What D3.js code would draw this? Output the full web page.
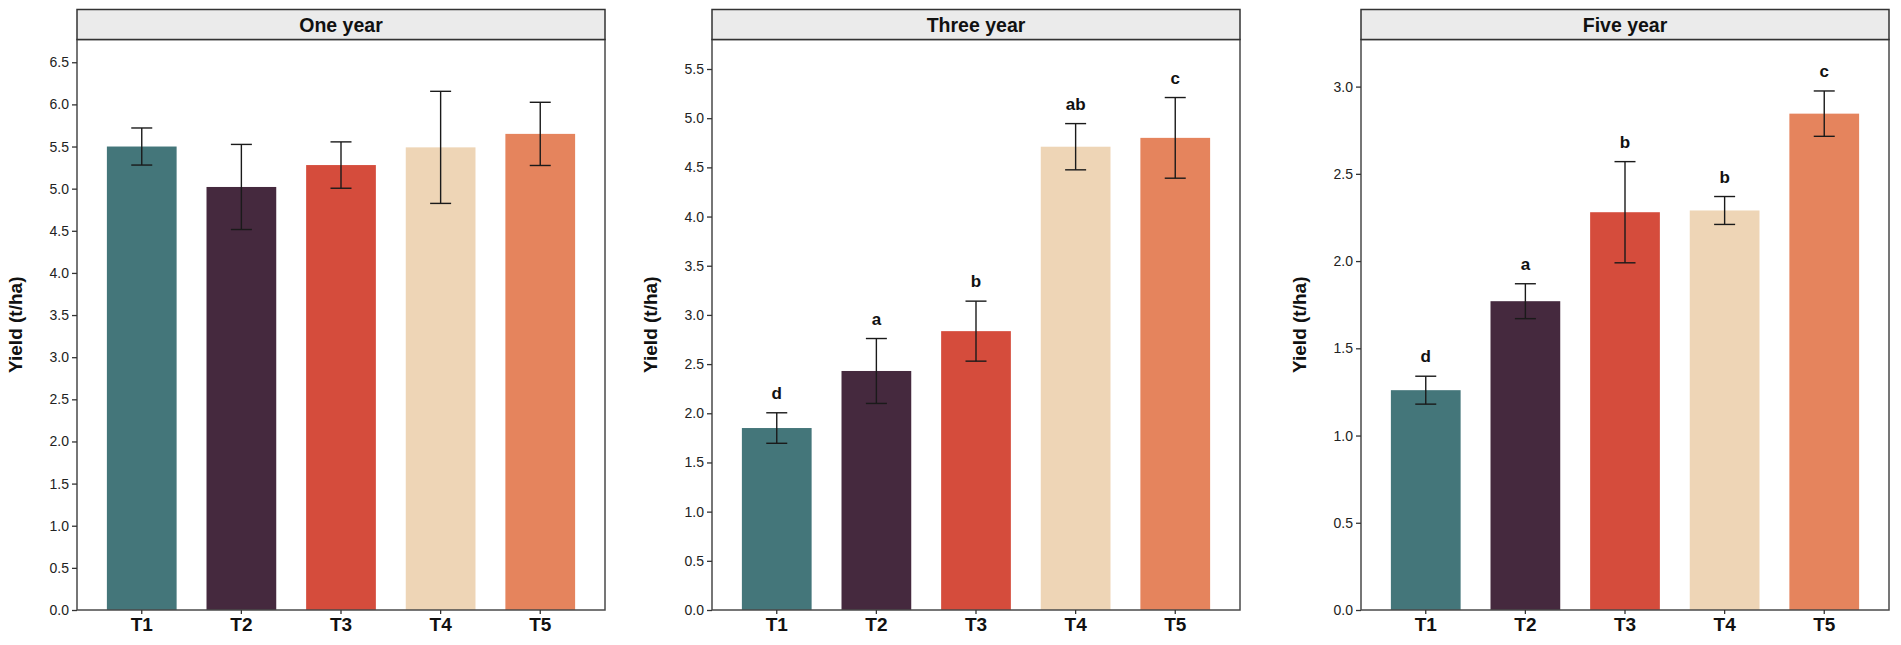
<!DOCTYPE html>
<html>
<head>
<meta charset="utf-8">
<script src="https://cdn.jsdelivr.net/npm/d3@7/dist/d3.min.js"></script>
<style>
  body { margin: 0; background: #fff; }
  svg { display: block; font-family: "Liberation Sans", Arial, sans-serif; }
</style>
</head>
<body>
<svg id="chart" width="1901" height="645"></svg>
<script>
// treatments and their colours
const categories = ["T1", "T2", "T3", "T4", "T5"];
const barColors = ["#44767a", "#45293e", "#d54c3c", "#eed5b6", "#e5845d"];

// panel titles
const panelTitles = ["One year", "Three year", "Five year"];

// yield means (t/ha) and error (sd)
const oneYearMeans = [5.50, 5.02, 5.28, 5.49, 5.65];
const oneYearSd    = [0.22, 0.505, 0.275, 0.665, 0.375];
const oneYearLetters = ["", "", "", "", ""];

const threeYearMeans = [1.85, 2.43, 2.835, 4.71, 4.80];
const threeYearSd    = [0.155, 0.33, 0.305, 0.235, 0.41];
const threeYearLetters = ["d", "a", "b", "ab", "c"];

const fiveYearMeans = [1.26, 1.77, 2.28, 2.29, 2.845];
const fiveYearSd    = [0.08, 0.10, 0.29, 0.08, 0.13];
const fiveYearLetters = ["d", "a", "b", "b", "c"];

// y axis upper limits and tick step
const yMax = [6.77, 5.80, 3.27];
const tickStep = 0.5;

const panels = [
  {title: panelTitles[0], means: oneYearMeans, sd: oneYearSd, letters: oneYearLetters, ymax: yMax[0]},
  {title: panelTitles[1], means: threeYearMeans, sd: threeYearSd, letters: threeYearLetters, ymax: yMax[1]},
  {title: panelTitles[2], means: fiveYearMeans, sd: fiveYearSd, letters: fiveYearLetters, ymax: yMax[2]}
];

const svg = d3.select("#chart");
const lefts = [77, 712, 1361];
const panelW = 528;
const stripTop = 9.5, stripH = 30;
const plotTop = stripTop + stripH, plotBottom = 610;

panels.forEach((p, pi) => {
  const left = lefts[pi];
  const g = svg.append("g");

  const x = d3.scaleBand()
    .domain(categories)
    .range([left, left + panelW])
    .paddingInner(0.3)
    .paddingOuter(0.3);

  const y = d3.scaleLinear()
    .domain([0, p.ymax])
    .range([plotBottom, plotTop]);

  const rows = categories.map((c, i) => ({
    cat: c, mean: p.means[i], sd: p.sd[i], letter: p.letters[i], color: barColors[i]
  }));

  // bars
  g.selectAll("rect.bar").data(rows).enter().append("rect")
    .attr("class", "bar")
    .attr("x", d => x(d.cat))
    .attr("width", x.bandwidth())
    .attr("y", d => y(d.mean))
    .attr("height", d => y(0) - y(d.mean))
    .attr("fill", d => d.color);

  // error bars
  const cap = 10.5;
  const eb = g.selectAll("g.err").data(rows).enter().append("g")
    .attr("class", "err")
    .attr("stroke", "#1a1a1a")
    .attr("stroke-width", 1.4);
  eb.append("line")
    .attr("x1", d => x(d.cat) + x.bandwidth() / 2)
    .attr("x2", d => x(d.cat) + x.bandwidth() / 2)
    .attr("y1", d => y(d.mean - d.sd))
    .attr("y2", d => y(d.mean + d.sd));
  eb.append("line")
    .attr("x1", d => x(d.cat) + x.bandwidth() / 2 - cap)
    .attr("x2", d => x(d.cat) + x.bandwidth() / 2 + cap)
    .attr("y1", d => y(d.mean + d.sd))
    .attr("y2", d => y(d.mean + d.sd));
  eb.append("line")
    .attr("x1", d => x(d.cat) + x.bandwidth() / 2 - cap)
    .attr("x2", d => x(d.cat) + x.bandwidth() / 2 + cap)
    .attr("y1", d => y(d.mean - d.sd))
    .attr("y2", d => y(d.mean - d.sd));

  // significance letters
  g.selectAll("text.letter").data(rows.filter(d => d.letter)).enter().append("text")
    .attr("class", "letter")
    .attr("x", d => x(d.cat) + x.bandwidth() / 2)
    .attr("y", d => y(d.mean + d.sd) - 14)
    .attr("text-anchor", "middle")
    .attr("font-size", 17)
    .attr("font-weight", "bold")
    .attr("fill", "#111")
    .text(d => d.letter);

  // panel border
  g.append("rect")
    .attr("x", left).attr("y", plotTop)
    .attr("width", panelW).attr("height", plotBottom - plotTop)
    .attr("fill", "none")
    .attr("stroke", "#4a4a4a")
    .attr("stroke-width", 1.5);

  // strip
  g.append("rect")
    .attr("x", left).attr("y", stripTop)
    .attr("width", panelW).attr("height", stripH)
    .attr("fill", "#ebebeb")
    .attr("stroke", "#333")
    .attr("stroke-width", 1.5);
  g.append("text")
    .attr("x", left + panelW / 2)
    .attr("y", stripTop + stripH / 2 + 7)
    .attr("text-anchor", "middle")
    .attr("font-size", 19.5)
    .attr("font-weight", "bold")
    .attr("fill", "#111")
    .text(p.title);

  // y axis
  const ticks = d3.range(0, p.ymax + 1e-9, tickStep).filter(t => t <= p.ymax);
  const yAxis = g.append("g")
    .attr("transform", `translate(${left},0)`)
    .call(d3.axisLeft(y).tickValues(ticks).tickFormat(d3.format(".1f")).tickSize(5).tickPadding(3));
  yAxis.select(".domain").remove();
  yAxis.selectAll(".tick line").attr("stroke", "#333").attr("stroke-width", 1.3);
  yAxis.selectAll(".tick text").attr("font-size", 14).attr("fill", "#222").attr("font-family", null);

  // x axis
  const xAxis = g.append("g")
    .attr("transform", `translate(0,${plotBottom})`)
    .call(d3.axisBottom(x).tickSize(4).tickPadding(4));
  xAxis.select(".domain").remove();
  xAxis.selectAll(".tick line").attr("stroke", "#333").attr("stroke-width", 1.3);
  xAxis.selectAll(".tick text")
    .attr("font-size", 19)
    .attr("font-weight", "bold")
    .attr("fill", "#111")
    .attr("font-family", null);

  // y title
  g.append("text")
    .attr("transform", `translate(${left - 55},${(plotTop + plotBottom) / 2}) rotate(-90)`)
    .attr("text-anchor", "middle")
    .attr("font-size", 19)
    .attr("font-weight", "bold")
    .attr("fill", "#111")
    .text("Yield (t/ha)");
});
</script>
</body>
</html>
